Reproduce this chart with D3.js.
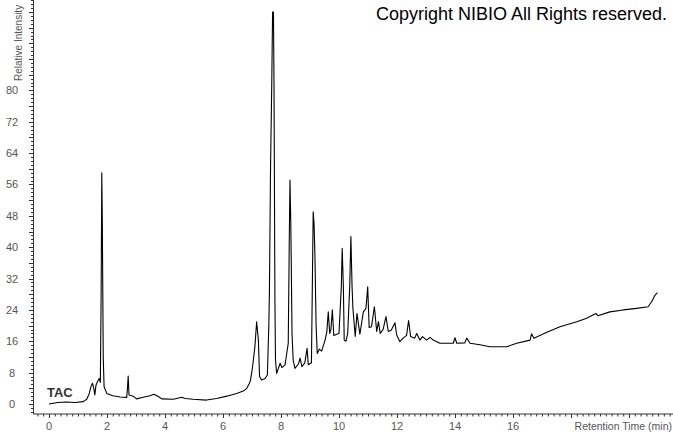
<!DOCTYPE html>
<html lang="ja">
  <head>
    <meta charset="utf-8">
    <title>TAC chromatogram</title>
    <style>
      body { margin: 0; background: white; }
      #chart text { font-family: "Liberation Sans", Arial, sans-serif; }
    </style>
  </head>
  <body>
  <!-- Load d3.js -->
  <script src="https://d3js.org/d3.v7.min.js"></script>

  <div id="chart"></div>

  <script>
    // retention time (min) and relative intensity
    var times = [0.00, 0.30, 0.60, 0.90, 1.18, 1.30, 1.38, 1.45, 1.50, 1.55, 1.58, 1.62, 1.67, 1.73, 1.77,
      1.80, 1.82, 1.84, 1.87, 1.90, 1.99, 2.20, 2.45, 2.68, 2.71, 2.73, 2.76, 2.90, 3.02, 3.25, 3.48,
      3.62, 3.77, 3.89, 4.29, 4.58, 4.69, 4.97, 5.43, 5.78, 6.13, 6.47, 6.70, 6.82, 6.91, 6.95, 7.02,
      7.10, 7.16, 7.22, 7.26, 7.33, 7.45, 7.53, 7.58, 7.60, 7.64, 7.68, 7.71, 7.74, 7.76, 7.79, 7.81,
      7.85, 7.97, 8.03, 8.14, 8.25, 8.29, 8.31, 8.34, 8.38, 8.42, 8.48, 8.60, 8.66, 8.72, 8.82, 8.90,
      8.94, 9.05, 9.11, 9.14, 9.17, 9.21, 9.25, 9.32, 9.40, 9.52, 9.58, 9.63, 9.68, 9.72, 9.77, 9.82,
      9.92, 10.00, 10.08, 10.11, 10.15, 10.18, 10.24, 10.30, 10.37, 10.41, 10.45, 10.48, 10.56, 10.62,
      10.72, 10.84, 10.93, 10.99, 11.04, 11.12, 11.22, 11.30, 11.36, 11.42, 11.52, 11.62, 11.70, 11.80,
      11.93, 11.99, 12.10, 12.21, 12.33, 12.40, 12.47, 12.61, 12.68, 12.79, 12.88, 13.02, 13.14, 13.25,
      13.48, 13.94, 14.00, 14.06, 14.34, 14.40, 14.52, 14.86, 15.20, 15.78, 16.13, 16.59, 16.64, 16.72,
      17.13, 17.62, 18.20, 18.54, 18.86, 18.93, 19.34, 19.80, 20.26, 20.66, 20.78, 20.90, 20.98]
    var intensity = [0.0, 0.4, 0.5, 0.4, 0.6, 1.2, 2.5, 4.5, 5.3, 3.8, 2.3, 4.8, 5.7, 6.5, 5.5,
      30, 59, 45, 12, 4.4, 2.7, 2.1, 1.8, 1.7, 4.5, 7.1, 2.3, 2.0, 1.3, 1.7, 2.1,
      2.5, 1.9, 1.3, 1.2, 1.7, 1.4, 1.2, 1.0, 1.4, 2.0, 2.7, 3.3, 4.0, 5.3, 6.1, 9.5,
      14.6, 21.0, 16.3, 7.0, 6.1, 6.5, 7.4, 20, 28.2, 60.5, 81, 100, 100, 80, 26.5, 11.2,
      7.8, 10.4, 9.3, 10, 15.5, 45, 57.1, 45.2, 18, 11.2, 9.1, 10.2, 11.7, 9.5, 10.5, 14.2,
      10, 10.5, 49, 46, 38, 20, 12.9, 14.0, 13.5, 16.3, 18.4, 23.5, 18.0, 19, 24, 17.5,
      17.8, 18.0, 30, 39.7, 30, 16.3, 16.0, 18, 30, 42.7, 30, 24.4, 17.2, 23.1,
      17.8, 23.5, 24.4, 29.9, 19.5, 19.7, 24.8, 18.5, 21, 18, 19.0, 22.3, 18.5, 18.8,
      20.7, 17.6, 15.9, 16.8, 17.5, 21.3, 17.2, 16.8, 18.0, 16.3, 17.2, 16.3, 17.0, 16.3,
      15.5, 15.5, 16.9, 15.5, 15.6, 16.8, 15.5, 15.1, 14.6, 14.6, 15.5, 16.3, 17.9, 16.8,
      18.2, 19.7, 21.0, 21.9, 23.1, 22.5, 23.5, 24.0, 24.4, 24.8, 26.1, 27.8, 28.4]

    // tick labels
    var xLabels = [0, 2, 4, 6, 8, 10, 12, 14, 16]
    var yLabels = [0, 8, 16, 24, 32, 40, 48, 56, 64, 72, 80]

    var width = 673
        height = 433

    var svg = d3.select("#chart")
      .append("svg")
        .attr("width", width)
        .attr("height", height)

    // scales: 29px per minute, 3.92px per intensity unit
    var x = d3.scaleLinear()
      .domain([(33 - 49) / 29, (673 - 49) / 29])
      .range([33, 673])
    var y = d3.scaleLinear()
      .domain([-10 / 3.92, 404 / 3.92])
      .range([414, 0])

    // x axis: minor ticks every 0.2 min, longer every 2
    var xMinor = d3.range(-0.4, 21.5, 0.2).map(function(d){ return Math.round(d * 10) / 10 })
    var gx = svg.append("g").attr("transform", "translate(0,414)")
    gx.append("line")
      .attr("x1", 33).attr("x2", 673)
      .attr("stroke", "#333")
    gx.selectAll(".minor")
      .data(xMinor)
      .enter().append("line")
        .attr("x1", function(d){ return x(d) + 0.5 })
        .attr("x2", function(d){ return x(d) + 0.5 })
        .attr("y1", 0)
        .attr("y2", function(d){ return Math.abs(d % 2) < 0.01 ? 4 : 2.5 })
        .attr("stroke", "#333")
    gx.selectAll(".lbl")
      .data(xLabels)
      .enter().append("text")
        .attr("x", function(d){ return x(d) })
        .attr("y", 16)
        .attr("text-anchor", "middle")
        .attr("font-size", "11px")
        .attr("fill", "#555")
        .text(function(d){ return d })

    // y axis: minor every 1, medium every 4, labels every 8
    var yMinor = d3.range(-2, 104, 1)
    var gy = svg.append("g")
    gy.append("line")
      .attr("x1", 33.5).attr("x2", 33.5)
      .attr("y1", 0).attr("y2", 414)
      .attr("stroke", "#333")
    gy.selectAll(".minor")
      .data(yMinor)
      .enter().append("line")
        .attr("x1", function(d){ return d % 4 == 0 ? 29 : 31 })
        .attr("x2", 33)
        .attr("y1", function(d){ return Math.round(y(d)) + 0.5 })
        .attr("y2", function(d){ return Math.round(y(d)) + 0.5 })
        .attr("stroke", "#333")
    gy.selectAll(".lbl")
      .data(yLabels)
      .enter().append("text")
        .attr("x", 12)
        .attr("y", function(d){ return y(d) + 4 })
        .attr("text-anchor", "middle")
        .attr("font-size", "11px")
        .attr("fill", "#555")
        .text(function(d){ return d })

    // axis titles
    svg.append("text")
      .attr("transform", "translate(22,81) rotate(-90)")
      .attr("font-size", "10px")
      .attr("fill", "#555")
      .text("Relative Intensity")
    svg.append("text")
      .attr("x", 672)
      .attr("y", 430)
      .attr("text-anchor", "end")
      .attr("font-size", "10.5px")
      .attr("fill", "#555")
      .text("Retention Time (min)")

    // the trace
    var line = d3.line()
      .x(function(d){ return x(d[0]) })
      .y(function(d){ return y(d[1]) })
    svg.append("path")
      .datum(d3.zip(times, intensity))
      .attr("d", line)
      .attr("fill", "none")
      .attr("stroke", "black")
      .attr("stroke-width", 1.1)
      .attr("stroke-linejoin", "round")

    svg.append("text")
      .attr("x", 47)
      .attr("y", 397)
      .attr("font-size", "13px")
      .attr("font-weight", "bold")
      .attr("fill", "#333")
      .text("TAC")

    svg.append("text")
      .attr("x", 376)
      .attr("y", 20)
      .attr("font-size", "18px")
      .attr("fill", "black")
      .text("Copyright NIBIO All Rights reserved.")
  </script>
  </body>
</html>
